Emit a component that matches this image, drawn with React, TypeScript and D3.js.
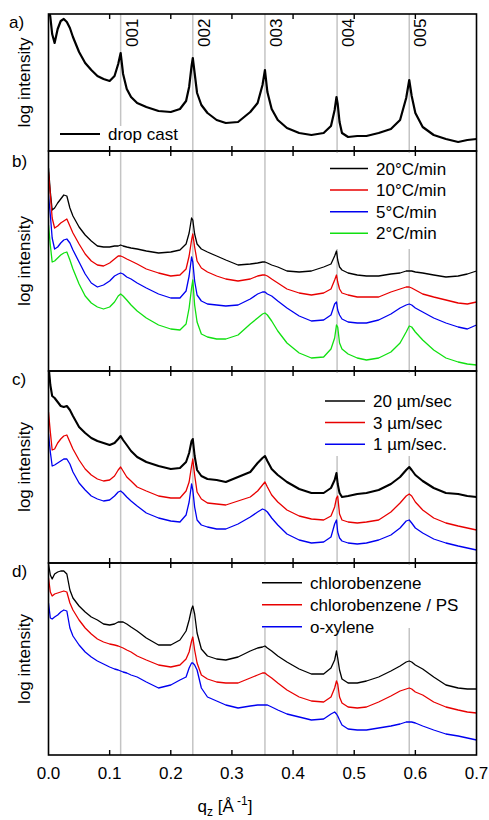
import React from "react";
import * as d3 from "d3";

// shared q grid (Å^-1)
const Q = [
  0.0, 0.003, 0.006, 0.01, 0.015, 0.02, 0.025, 0.03, 0.035, 0.04,
  0.05, 0.06, 0.07, 0.08, 0.09, 0.1, 0.108, 0.114, 0.118, 0.122,
  0.128, 0.135, 0.145, 0.16, 0.18, 0.2, 0.215, 0.225, 0.23, 0.234,
  0.236, 0.239, 0.243, 0.25, 0.26, 0.275, 0.29, 0.31, 0.33, 0.342,
  0.35, 0.354, 0.358, 0.365, 0.375, 0.39, 0.41, 0.43, 0.45, 0.462,
  0.468, 0.471, 0.473, 0.476, 0.48, 0.49, 0.505, 0.52, 0.54, 0.56,
  0.575, 0.585, 0.59, 0.594, 0.6, 0.612, 0.63, 0.65, 0.67, 0.685,
  0.7,
];

// a) drop cast
const DROP_CAST = [
  14.6, 13.4, 11.7, 10.8, 12.2, 13.0, 13.2, 12.9, 12.3, 11.4,
  9.9, 8.8, 8.1, 7.5, 7.2, 7.0, 7.5, 8.7, 9.8, 7.7,
  6.2, 5.4, 4.8, 4.4, 4.0, 3.9, 4.2, 5.0, 6.4, 8.5,
  9.3, 7.8, 5.8, 4.6, 3.8, 3.1, 2.8, 2.9, 3.9, 4.8,
  6.6, 8.1, 5.9, 4.2, 3.1, 2.3, 1.8, 1.6, 1.8, 2.5,
  4.1, 5.4, 4.7, 2.9, 1.8, 1.4, 1.5, 1.5, 1.8, 2.2,
  3.1, 5.3, 7.1, 5.5, 3.8, 2.4, 1.6, 1.2, 0.9, 1.1,
  1.2,
];

// b) cooling rates
const RATE_20 = [
  20.3, 17.9, 16.1, 16.3, 16.8, 17.2, 17.6, 17.5, 16.3, 15.5,
  14.4, 13.6, 13.0, 12.5, 12.4, 12.4, 12.5, 12.5, 12.6, 12.5,
  12.4, 12.3, 12.2, 12.0, 11.8, 11.9, 12.1, 12.7, 13.8, 15.3,
  15.1, 13.7, 12.7, 12.2, 11.9, 11.5, 11.1, 10.6, 10.7, 10.8,
  10.9, 10.9, 10.8, 10.6, 10.4, 10.0, 9.9, 10.0, 10.4, 10.7,
  11.5, 12.0, 11.1, 10.4, 10.1, 9.8, 9.6, 9.5, 9.5, 9.7,
  9.8, 10.0, 10.0, 10.0, 9.9, 9.8, 9.6, 9.4, 9.5, 9.7,
  10.0,
];
const RATE_10 = [
  19.9, 17.6, 15.3, 14.3, 14.5, 14.8, 15.0, 15.2, 14.5, 13.8,
  12.7, 11.7, 11.0, 10.6, 10.5, 10.8, 11.2, 11.5, 11.5, 11.4,
  11.2, 11.0, 10.7, 10.2, 9.8, 9.5, 9.6, 10.2, 11.5, 13.1,
  13.7, 12.4, 11.0, 10.3, 9.9, 9.5, 9.2, 9.0, 9.2, 9.5,
  9.6, 9.6, 9.5, 9.2, 8.8, 8.2, 7.8, 7.6, 7.8, 8.2,
  9.1, 9.6, 8.9, 8.2, 7.8, 7.6, 7.4, 7.4, 7.4, 7.9,
  8.2, 8.4, 8.4, 8.3, 8.1, 7.7, 7.4, 7.1, 6.8, 6.7,
  6.9,
];
const RATE_5 = [
  17.6, 15.6, 13.3, 12.2, 12.4, 12.8, 13.1, 13.2, 12.8, 12.1,
  10.9, 9.7, 8.8, 8.4, 8.6, 9.0, 9.5, 9.7, 9.8, 9.7,
  9.4, 9.2, 8.8, 8.3, 7.7, 7.3, 7.3, 8.0, 9.5, 11.4,
  10.9, 9.0, 7.6, 7.0, 6.7, 6.6, 6.5, 6.6, 7.2, 7.7,
  7.9, 7.9, 7.7, 7.5, 7.0, 6.3, 5.5, 5.0, 5.1, 5.6,
  6.7, 6.9, 6.1, 5.6, 5.2, 4.9, 4.8, 4.8, 5.1, 5.7,
  6.3, 6.6, 6.7, 6.6, 6.3, 5.9, 5.3, 4.8, 4.4, 4.2,
  4.6,
];
const RATE_2 = [
  14.6, 12.6, 10.9, 11.0, 11.3, 11.6, 11.8, 11.9, 11.1, 10.2,
  8.7, 7.5, 6.8, 6.4, 6.2, 6.4, 6.9, 7.5, 7.7, 7.5,
  7.1, 6.6, 6.0, 5.3, 4.6, 4.2, 4.1, 4.7, 6.3, 8.3,
  9.1, 6.6, 4.9, 3.7, 3.4, 3.2, 3.2, 3.6, 4.7, 5.3,
  5.7, 5.8, 5.6, 5.0, 4.0, 2.8, 1.8, 1.3, 1.4, 2.2,
  3.3, 4.6, 4.4, 2.8, 2.2, 1.7, 1.3, 1.1, 1.3, 1.9,
  2.8, 3.9, 4.5, 4.4, 3.9, 3.1, 2.1, 1.3, 0.9, 0.7,
  0.6,
];

// c) coating speeds
const SPEED_20 = [
  19.8, 17.8, 16.7, 16.5, 16.1, 15.7, 15.6, 15.7, 15.3, 14.7,
  13.6, 13.0, 12.5, 12.2, 12.0, 11.8, 12.0, 12.4, 12.7, 12.3,
  11.8, 11.2, 10.6, 10.1, 9.7, 9.4, 9.5, 10.1, 11.0, 12.2,
  12.4, 10.7, 9.3, 8.7, 8.4, 8.3, 8.1, 8.6, 9.1, 10.0,
  10.5, 10.7, 10.2, 9.4, 8.8, 8.1, 7.4, 7.0, 7.0, 7.5,
  8.3, 9.0, 7.9, 7.0, 6.6, 6.7, 6.9, 7.0, 7.3, 7.9,
  8.6, 9.3, 9.6, 9.3, 8.8, 8.2, 7.5, 7.0, 6.9, 6.7,
  6.6,
];
const SPEED_3 = [
  15.1, 13.1, 11.3, 11.4, 12.0, 12.4, 12.7, 12.8, 12.1, 11.4,
  10.3, 9.4, 8.8, 8.4, 8.2, 8.3, 8.7, 9.3, 9.6, 9.2,
  8.6, 8.2, 7.6, 7.2, 6.7, 6.5, 6.5, 7.2, 8.1, 9.7,
  10.4, 8.8, 7.1, 6.4, 6.0, 5.9, 5.8, 6.2, 6.6, 7.2,
  7.8, 8.1, 7.6, 6.8, 6.1, 5.3, 4.7, 4.4, 4.3, 4.7,
  5.6, 6.5, 6.7, 4.9, 4.3, 4.1, 4.0, 4.1, 4.3, 5.1,
  6.0, 6.7, 6.9, 6.7, 6.1, 5.3, 4.5, 4.0, 3.7, 3.5,
  3.3,
];
const SPEED_1 = [
  12.9, 11.1, 9.7, 9.8, 10.0, 10.2, 10.4, 10.4, 9.9, 9.1,
  8.0, 7.3, 6.7, 6.4, 6.2, 6.3, 6.7, 7.1, 7.2, 7.0,
  6.6, 6.2, 5.7, 5.0, 4.5, 4.2, 4.1, 4.8, 6.1, 7.9,
  7.3, 5.6, 4.3, 3.8, 3.6, 3.4, 3.4, 3.9, 4.6, 5.1,
  5.4, 5.3, 5.1, 4.5, 3.8, 2.9, 2.3, 2.0, 2.1, 2.6,
  3.9, 4.3, 3.1, 2.5, 2.2, 2.0, 1.9, 2.0, 2.3, 2.8,
  3.5, 4.2, 4.3, 4.0, 3.5, 3.0, 2.4, 2.0, 1.7, 1.5,
  1.3,
];

// d) solvents
const CHLOROBENZENE = [
  19.1, 18.0, 17.6, 18.1, 18.3, 18.4, 18.4, 18.1, 16.5, 15.7,
  14.9, 14.3, 13.8, 13.5, 13.1, 13.0, 13.1, 13.3, 13.3, 13.3,
  13.1, 12.8, 12.4, 11.7, 11.0, 11.0, 11.5, 12.4, 13.5, 14.6,
  14.9, 14.1, 12.2, 10.6, 9.9, 9.6, 9.5, 9.8, 10.4, 10.7,
  10.8, 10.9, 10.7, 10.4, 9.9, 9.3, 8.6, 8.1, 8.1, 8.7,
  9.5, 10.4, 9.7, 8.5, 7.6, 7.2, 7.2, 7.4, 7.8, 8.4,
  8.9, 9.3, 9.4, 9.3, 9.0, 8.6, 7.8, 7.0, 6.7, 6.6,
  6.6,
];
const CHLOROBENZENE_PS = [
  17.7, 16.3, 15.9, 16.1, 16.2, 16.3, 16.4, 16.3, 15.2, 14.5,
  13.5, 12.7, 12.1, 11.6, 11.3, 11.1, 11.0, 10.9, 10.8, 10.7,
  10.5, 10.3, 9.9, 9.5, 9.0, 8.8, 9.0, 9.6, 10.3, 11.4,
  11.8, 10.5, 9.2, 8.0, 7.6, 7.3, 7.2, 7.2, 7.7, 8.0,
  8.2, 8.2, 8.0, 7.7, 7.2, 6.5, 5.8, 5.4, 5.3, 5.8,
  6.7, 7.4, 7.1, 5.8, 5.2, 4.8, 4.7, 4.8, 5.3, 5.9,
  6.4, 6.6, 6.7, 6.6, 6.3, 6.0, 5.3, 4.8, 4.5, 4.3,
  4.2,
];
const O_XYLENE = [
  15.2, 13.7, 13.6, 13.8, 14.0, 14.3, 14.5, 14.4, 12.7, 11.9,
  11.0, 10.3, 9.8, 9.4, 9.1, 8.8, 8.6, 8.5, 8.4, 8.3,
  8.2, 8.0, 7.8, 7.3, 6.7, 7.0, 7.5, 7.8, 8.7, 9.2,
  9.2, 9.0, 8.5, 6.7, 5.8, 5.4, 5.0, 4.7, 4.9, 5.0,
  5.0, 5.0, 5.0, 4.8, 4.5, 4.1, 3.8, 3.5, 3.6, 4.1,
  4.3, 4.1, 3.9, 3.5, 3.0, 2.6, 2.5, 2.5, 2.7, 2.9,
  3.1, 3.3, 3.3, 3.3, 3.2, 2.9, 2.5, 2.1, 1.9, 1.7,
  1.5,
];

const PEAK_Q = [0.118, 0.236, 0.354, 0.472, 0.59];
const PEAK_LABELS = ["001", "002", "003", "004", "005"];
const X_TICKS = [0, 0.1, 0.2, 0.3, 0.4, 0.5, 0.6, 0.7];
const INNER_TICKS = [0.1, 0.2, 0.3, 0.4, 0.5, 0.6];

const FONT = "'Liberation Sans', Arial, Helvetica, sans-serif";
const BLACK = "#000000";
const RED = "#e80000";
const BLUE = "#0000f0";
const GREEN = "#10e010";

type Series = { name: string; values: number[]; color: string; width: number };
type Panel = {
  id: string;
  label: string;
  top: number;
  bottom: number;
  labelX: number;
  labelY: number;
  series: Series[];
  legend: { x: number; y: number; gap: number; lineLen: number; box: [number, number, number, number] };
};

const PANELS: Panel[] = [
  {
    id: "a", label: "a)", top: 14, bottom: 151, labelX: 9, labelY: 28,
    series: [{ name: "drop cast", values: DROP_CAST, color: BLACK, width: 2.2 }],
    legend: { x: 60, y: 134, gap: 0, lineLen: 40, box: [56, 126, 130, 24] },
  },
  {
    id: "b", label: "b)", top: 151, bottom: 371, labelX: 12, labelY: 167,
    series: [
      { name: "20°C/min", values: RATE_20, color: BLACK, width: 1.3 },
      { name: "10°C/min", values: RATE_10, color: RED, width: 1.3 },
      { name: "5°C/min", values: RATE_5, color: BLUE, width: 1.3 },
      { name: "2°C/min", values: RATE_2, color: GREEN, width: 1.3 },
    ],
    legend: { x: 330, y: 168.5, gap: 21.6, lineLen: 38, box: [324, 153, 151, 96] },
  },
  {
    id: "c", label: "c)", top: 371, bottom: 563, labelX: 12, labelY: 385,
    series: [
      { name: "20 µm/sec", values: SPEED_20, color: BLACK, width: 2.1 },
      { name: "3 µm/sec", values: SPEED_3, color: RED, width: 1.3 },
      { name: "1 µm/sec.", values: SPEED_1, color: BLUE, width: 1.3 },
    ],
    legend: { x: 325, y: 401, gap: 21.6, lineLen: 40, box: [318, 373, 157, 83] },
  },
  {
    id: "d", label: "d)", top: 563, bottom: 755, labelX: 12, labelY: 577,
    series: [
      { name: "chlorobenzene", values: CHLOROBENZENE, color: BLACK, width: 1.3 },
      { name: "chlorobenzene / PS", values: CHLOROBENZENE_PS, color: RED, width: 1.3 },
      { name: "o-xylene", values: O_XYLENE, color: BLUE, width: 1.3 },
    ],
    legend: { x: 262, y: 582.7, gap: 22, lineLen: 40, box: [254, 565, 221, 63] },
  },
];

export default function App() {
  const X0 = 48.5;
  const X1 = 476.5;
  const x = d3.scaleLinear().domain([0, 0.7]).range([X0, X1]);
  const fmt = d3.format(".1f");
  const lastBottom = PANELS[PANELS.length - 1].bottom;

  return (
    <svg
      width={489}
      height={820}
      viewBox="0 0 489 820"
      style={{ position: "absolute", left: 0, top: 0, background: "#fff" }}
      fontFamily={FONT}
    >
      <rect x={0} y={0} width={489} height={820} fill="#fff" />
      <defs>
        {PANELS.map((p) => (
          <clipPath id={`clip-${p.id}`} key={p.id}>
            <rect x={X0} y={p.top} width={X1 - X0} height={p.bottom - p.top} />
          </clipPath>
        ))}
      </defs>
      {PANELS.map((p) => {
        const y = d3
          .scaleLinear()
          .domain([0, (p.bottom - p.top) / 10])
          .range([p.bottom, p.top]);
        const line = d3
          .line<number>()
          .x((_, i) => x(Q[i]))
          .y((d) => y(d));
        const midY = (p.top + p.bottom) / 2;
        const lg = p.legend;
        return (
          <g key={p.id}>
            {/* reference lines */}
            {PEAK_Q.map((q) => (
              <line
                key={q}
                x1={x(q)}
                x2={x(q)}
                y1={p.top}
                y2={p.bottom}
                stroke="#c4c4c4"
                strokeWidth={1.5}
              />
            ))}
            {/* data */}
            <g clipPath={`url(#clip-${p.id})`}>
              {p.series.map((s) => (
                <path
                  key={s.name}
                  d={line(s.values) || ""}
                  fill="none"
                  stroke={s.color}
                  strokeWidth={s.width}
                  strokeLinejoin="round"
                />
              ))}
            </g>
            {/* legend */}
            <rect x={lg.box[0]} y={lg.box[1]} width={lg.box[2]} height={lg.box[3]} fill="#fff" />
            {p.series.map((s, i) => (
              <g key={s.name}>
                <line
                  x1={lg.x}
                  x2={lg.x + lg.lineLen}
                  y1={lg.y + i * lg.gap}
                  y2={lg.y + i * lg.gap}
                  stroke={s.color}
                  strokeWidth={p.id === "a" ? 2.2 : 1.5}
                />
                <text x={lg.x + lg.lineLen + 8} y={lg.y + i * lg.gap + 6} fontSize={17} fill="#000">
                  {s.name}
                </text>
              </g>
            ))}
            {/* frame */}
            <rect
              x={X0}
              y={p.top}
              width={X1 - X0}
              height={p.bottom - p.top}
              fill="none"
              stroke="#000"
              strokeWidth={1.6}
            />
            {INNER_TICKS.map((t) => (
              <g key={t}>
                <line x1={x(t)} x2={x(t)} y1={p.top} y2={p.top + 5} stroke="#000" strokeWidth={1.4} />
                <line x1={x(t)} x2={x(t)} y1={p.bottom} y2={p.bottom - 5} stroke="#000" strokeWidth={1.4} />
              </g>
            ))}
            {/* y label */}
            <text
              transform={`translate(30,${midY}) rotate(-90)`}
              textAnchor="middle"
              fontSize={17}
              fill="#000"
            >
              log intensity
            </text>
            <text x={p.labelX} y={p.labelY} fontSize={17} fill="#000">
              {p.label}
            </text>
          </g>
        );
      })}
      {/* peak labels in panel a */}
      {PEAK_Q.map((q, i) => (
        <text
          key={PEAK_LABELS[i]}
          transform={`translate(${x(q) + 17},47) rotate(-90)`}
          fontSize={17}
          fill="#000"
        >
          {PEAK_LABELS[i]}
        </text>
      ))}
      {/* x axis tick labels */}
      {X_TICKS.map((t) => (
        <text key={t} x={x(t)} y={lastBottom + 24} textAnchor="middle" fontSize={17} fill="#000">
          {fmt(t)}
        </text>
      ))}
      <text x={225} y={812} textAnchor="middle" fontSize={17} fill="#000">
        q
        <tspan fontSize={12} dy={4}>z</tspan>
        <tspan dy={-4}> [Å</tspan>
        <tspan fontSize={12} dy={-7}> -1</tspan>
        <tspan dy={7}>]</tspan>
      </text>
    </svg>
  );
}
